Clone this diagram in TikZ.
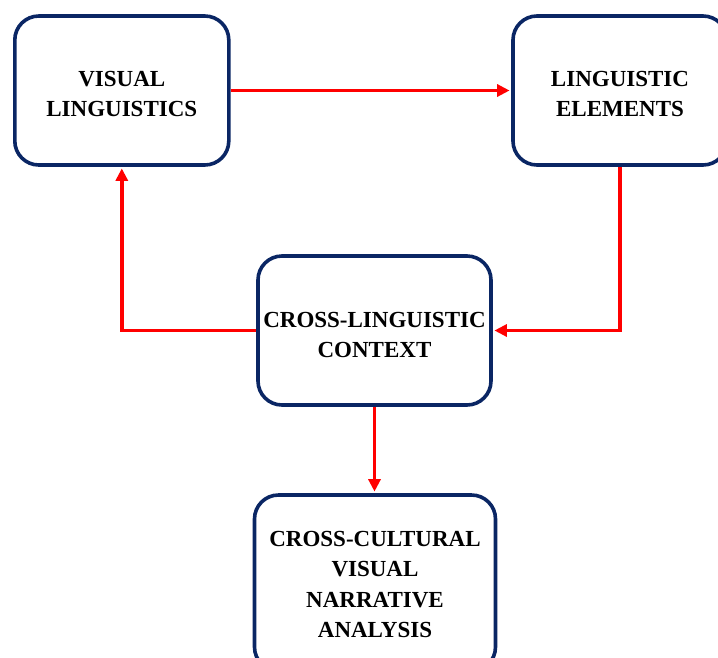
\documentclass[tikz,border=0pt]{standalone}
\usepackage{fontspec}
\setmainfont{Liberation Serif}
\usetikzlibrary{arrows.meta}
\definecolor{boxnavy}{RGB}{10,38,100}
\definecolor{arrred}{RGB}{255,0,0}
\tikzset{
  box/.style={draw=boxnavy, line width=3.6pt, rounded corners=24pt, fill=white,
    inner sep=0pt, align=center, text=black,
    font=\bfseries\fontsize{23}{30.5}\selectfont},
  arr/.style={draw=arrred, line width=3.4pt,
    -{Triangle[length=12.5pt,width=12pt]}, shorten >=1.6pt}
}
\newcommand{\topstrut}[1]{\rule{0pt}{#1}}
\begin{document}
\begin{tikzpicture}[x=1pt,y=-1pt]
  \useasboundingbox (0,0) rectangle (718,657);
  \clip (0,0) rectangle (718,657);
  \node[box, minimum width=214pt, minimum height=149pt] (vl) at (121.8,90.5) {\topstrut{22pt}VISUAL\\LINGUISTICS};
  \node[box, minimum width=214pt, minimum height=149pt] (le) at (620,90.5) {\topstrut{22pt}LINGUISTIC\\ELEMENTS};
  \node[box, minimum width=233pt, minimum height=149pt] (clc) at (374.5,330.5) {\topstrut{24pt}CROSS-LINGUISTIC\\CONTEXT};
  \node[box, minimum width=241pt, minimum height=176pt] (ccv) at (375,583) {\topstrut{18pt}CROSS-CULTURAL\\VISUAL\\NARRATIVE\\ANALYSIS};
  \draw[arr] (vl.east) -- (le.west);
  \draw[arr] (le.south) -- (le.south |- clc.east) -- (clc.east);
  \draw[arr] (clc.west) -- (vl.south |- clc.west) -- (vl.south);
  \draw[arr] (clc.south) -- (clc.south |- ccv.north);
\end{tikzpicture}
\end{document}
